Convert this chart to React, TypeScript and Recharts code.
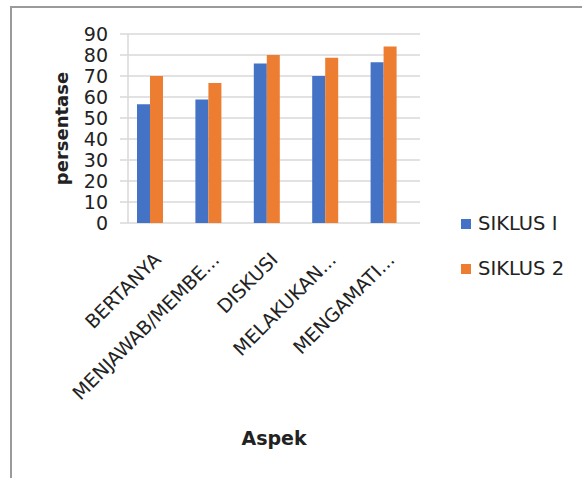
import React from "react";
import { BarChart, Bar, XAxis, YAxis, CartesianGrid } from "recharts";

const categories = [
  "BERTANYA",
  "MENJAWAB/MEMBE...",
  "DISKUSI",
  "MELAKUKAN...",
  "MENGAMATI...",
];
const siklus1 = [56.5, 58.8, 76, 70, 76.5];
const siklus2 = [70, 66.7, 80, 78.7, 84];
const yTicks = [0, 10, 20, 30, 40, 50, 60, 70, 80, 90];
const boundaryTicks = [0, 1, 2, 3, 4, 5];
const seriesNames = ["SIKLUS I", "SIKLUS 2"];

const data = categories.map((name, i) => ({
  name,
  s1: siklus1[i],
  s2: siklus2[i],
}));

const FONT = "'DejaVu Sans', sans-serif";
const BLUE = "#4472C4";
const ORANGE = "#ED7D31";
const GRID = "#d9d9d9";
const TEXT = "#222";

const CategoryTick = (props: any) => {
  const { x, y, payload } = props;
  return (
    <g transform={`translate(${x + 2},${y + 20})`}>
      <text
        x={0}
        y={0}
        dy={14}
        textAnchor="end"
        transform="rotate(-45)"
        fontFamily={FONT}
        fontSize={19}
        fill={TEXT}
      >
        {payload.value}
      </text>
    </g>
  );
};

const EmptyTick = () => <g />;

const LegendBox = () => {
  const colors = [BLUE, ORANGE];
  return (
    <div
      style={{
        position: "absolute",
        left: 461,
        top: 201,
        fontFamily: FONT,
        fontSize: 19.5,
        color: TEXT,
      }}
    >
      {seriesNames.map((label, i) => (
        <div
          key={label}
          style={{ display: "flex", alignItems: "center", height: 45 }}
        >
          <span
            style={{
              display: "inline-block",
              width: 10,
              height: 10,
              background: colors[i],
              marginRight: 7,
            }}
          />
          {label}
        </div>
      ))}
    </div>
  );
};

const App = () => {
  return (
    <div
      style={{
        position: "absolute",
        left: 0,
        top: 0,
        width: 582,
        height: 478,
        background: "#fff",
      }}
    >
      <div
        style={{
          position: "absolute",
          left: 10,
          top: 6,
          right: 0,
          bottom: 0,
          borderTop: "2px solid #9a9a9a",
          borderLeft: "2px solid #9a9a9a",
        }}
      />
      <BarChart
        width={582}
        height={478}
        data={data}
        margin={{ top: 34, right: 162, left: 48, bottom: 0 }}
        barGap={0}
        barSize={13}
        style={{ position: "absolute", left: 0, top: 0 }}
      >
        <CartesianGrid vertical={false} stroke={GRID} strokeWidth={1.5} />
        <XAxis
          xAxisId="edge"
          type="number"
          domain={[0, 5]}
          ticks={boundaryTicks}
          interval={0}
          tick={<EmptyTick />}
          height={0}
          tickSize={7}
          stroke="#c8c8c8"
          strokeWidth={1.5}
        />
        <XAxis
          xAxisId="cat"
          dataKey="name"
          axisLine={false}
          tickLine={false}
          interval={0}
          height={255}
          padding={{ left: -7, right: 7 }}
          tick={<CategoryTick />}
          label={{
            value: "Aspek",
            position: "insideBottom",
            offset: 33,
            style: {
              fontFamily: FONT,
              fontSize: 19,
              fontWeight: "bold",
              fill: TEXT,
            },
          }}
        />
        <YAxis
          width={80}
          domain={[0, 90]}
          ticks={yTicks}
          interval={0}
          tickSize={8}
          tickMargin={12}
          stroke={GRID}
          strokeWidth={1.5}
          tick={{ fontFamily: FONT, fontSize: 19, fill: TEXT }}
          label={{
            value: "persentase",
            angle: -90,
            position: "insideLeft",
            offset: 14,
            style: {
              textAnchor: "middle",
              fontFamily: FONT,
              fontSize: 18,
              fontWeight: "bold",
              fill: TEXT,
            },
          }}
        />
        <Bar xAxisId="cat" dataKey="s1" name={seriesNames[0]} fill={BLUE} isAnimationActive={false} />
        <Bar xAxisId="cat" dataKey="s2" name={seriesNames[1]} fill={ORANGE} isAnimationActive={false} />
      </BarChart>
      <LegendBox />
    </div>
  );
};

export default App;
